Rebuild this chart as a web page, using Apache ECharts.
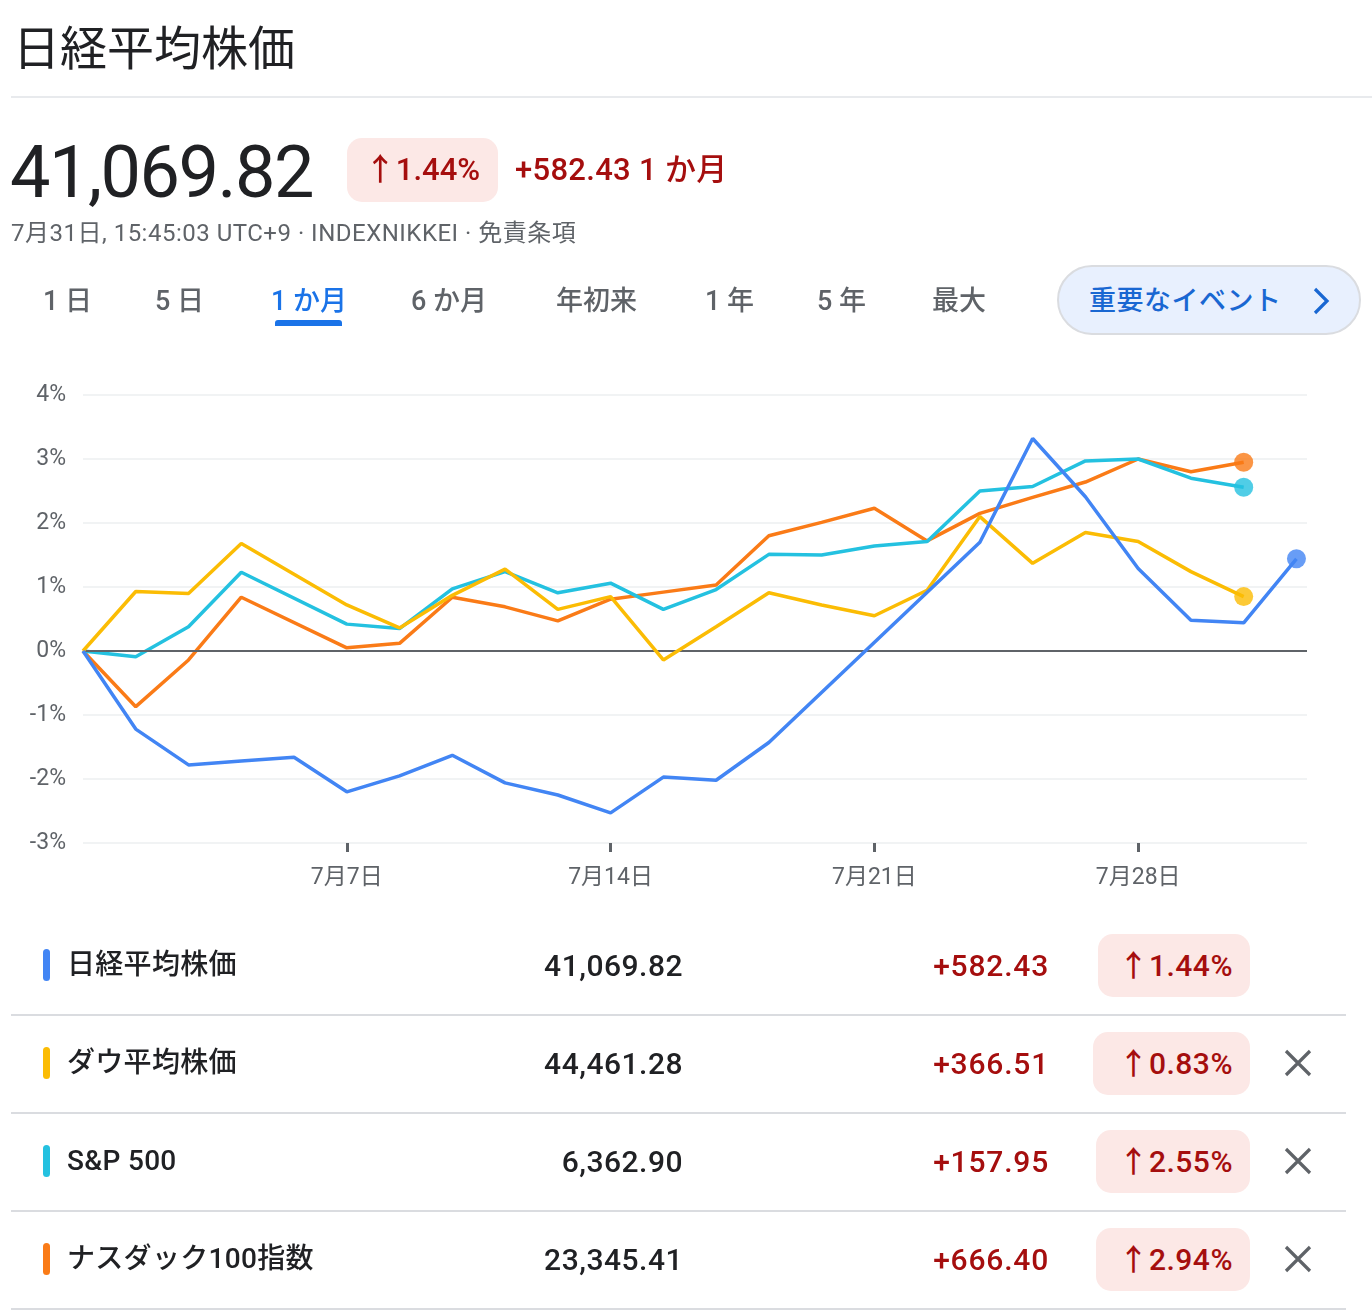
<!DOCTYPE html>
<html lang="ja">
<head>
<meta charset="utf-8">
<script src="https://cdn.jsdelivr.net/npm/echarts@6/dist/echarts.min.js"></script>
<style>
  html, body { margin:0; padding:0; background:#fff; }
  body { width:1372px; height:1314px; position:relative; overflow:hidden;
         font-family: Roboto, "Noto Sans CJK JP", sans-serif; color:#202124; }
  #chart { position:absolute; left:0; top:0; width:1372px; height:1314px; }
  .abs { position:absolute; white-space:nowrap; }
  .title { left:13px; top:12px; font-size:47px; font-family:"Noto Sans CJK JP", sans-serif; line-height:66px; color:#202124; }
  .divider { left:11px; top:96px; width:1361px; height:2px; background:#e8eaed; }
  .price { left:10px; top:128px; font-size:72px; line-height:90px; letter-spacing:-1.5px; color:#202124; }
  .badge { background:#fce8e6; color:#a50e0e; border-radius:15px; font-weight:500; text-align:center; }
  .hbadge { left:347px; top:138px; width:151px; height:64px; line-height:64px; font-size:31px; }
  .hchg { left:515px; top:148px; font-size:31px; line-height:44px; color:#a50e0e; font-weight:500; letter-spacing:0.3px; }
  .sub { left:11px; top:218px; font-size:24px; line-height:30px; color:#5f6368; letter-spacing:0.5px; }
  .tab { top:284px; font-size:27px; line-height:34px; color:#5f6368; font-weight:500; }
  .tab.active { color:#1a73e8; }
  .uline { left:275px; top:320px; width:67px; height:6px; border-radius:3px 3px 0 0; background:#1a73e8; }
  .evbtn { left:1057px; top:265px; width:304px; height:70px; border-radius:35px; background:#e8f0fe; border:2px solid #dadce0; box-sizing:border-box; }
  .evtxt { left:1089px; top:284px; font-size:27px; line-height:34px; color:#1967d2; font-weight:500; letter-spacing:0.5px; }
  .row-bar { width:7px; height:32px; border-radius:4px; }
  .row-name { left:67px; font-size:28px; line-height:36px; font-weight:500; color:#202124; letter-spacing:0.3px; }
  .row-val { font-size:30px; line-height:36px; font-weight:500; color:#202124; text-align:right; width:250px; letter-spacing:0.5px; }
  .row-chg { font-size:30px; line-height:36px; font-weight:500; color:#a50e0e; text-align:right; width:250px; letter-spacing:0.8px; }
  .rbadge { height:63px; line-height:63px; font-size:30px; text-align:right; padding:0 17px; box-sizing:border-box; letter-spacing:0.5px; }
  .row-line { left:11px; width:1335px; height:2px; background:#dadce0; }
</style>
</head>
<body>
<div id="chart"></div>
<div id="overlay"></div>
<script>
// ---- data ----
const indexNames = ['日経平均株価', 'ダウ平均株価', 'S&P 500', 'ナスダック100指数'];
const lastValues = ['41,069.82', '44,461.28', '6,362.90', '23,345.41'];
const changes = ['+582.43', '+366.51', '+157.95', '+666.40'];
const changePct = ['1.44%', '0.83%', '2.55%', '2.94%'];
const seriesColors = ['#4285f4', '#fbbc04', '#24c1e0', '#fa7b17'];
// trading-day positions (0 = 6月30日)
const tradingDays = ['6月30日','7月1日','7月2日','7月3日','7月4日','7月7日','7月8日','7月9日','7月10日','7月11日',
  '7月14日','7月15日','7月16日','7月17日','7月18日','7月21日','7月22日','7月23日','7月24日','7月25日',
  '7月28日','7月29日','7月30日','7月31日'];
const xTickIndex = [5, 10, 15, 20];
const yTicks = [-3, -2, -1, 0, 1, 2, 3, 4];
// percent change vs 6月30日
const nikkei = [0, -1.22, -1.78, -1.72, -1.66, -2.20, -1.95, -1.63, -2.06, -2.25, -2.53, -1.97, -2.02, -1.43, null, null, null, 1.70, 3.32, 2.41, 1.29, 0.48, 0.44, 1.44];
const dow    = [0, 0.93, 0.90, 1.68, null, 0.72, 0.36, 0.87, 1.28, 0.65, 0.85, -0.14, 0.38, 0.91, 0.72, 0.55, 0.95, 2.10, 1.37, 1.85, 1.71, 1.24, 0.85, null];
const sp500  = [0, -0.09, 0.38, 1.23, null, 0.42, 0.35, 0.97, 1.24, 0.91, 1.06, 0.65, 0.96, 1.51, 1.50, 1.64, 1.71, 2.50, 2.57, 2.97, 3.00, 2.70, 2.56, null];
const ndx100 = [0, -0.87, -0.14, 0.84, null, 0.05, 0.12, 0.84, 0.69, 0.47, 0.81, 0.92, 1.03, 1.80, 2.01, 2.23, 1.72, 2.15, 2.40, 2.64, 3.00, 2.80, 2.95, null];
const allSeries = [nikkei, dow, sp500, ndx100];

// ---- HTML parts ----
const ov = document.getElementById('overlay');
function el(cls, style, text) {
  const d = document.createElement('div');
  d.className = 'abs ' + cls;
  if (style) d.setAttribute('style', style);
  if (text !== undefined) d.textContent = text;
  ov.appendChild(d);
  return d;
}
el('title', '', '日経平均株価');
el('divider', '');
el('price', '', lastValues[0]);
el('badge hbadge', '', '↑' + changePct[0]);
el('hchg', '', changes[0] + ' 1 か月');
el('sub', '', '7月31日, 15:45:03 UTC+9 · INDEXNIKKEI · 免責条項');
const tabs = [['1 日',43],['5 日',155],['1 か月',271],['6 か月',411],['年初来',556],['1 年',705],['5 年',817],['最大',932]];
tabs.forEach((t, i) => el('tab' + (i === 2 ? ' active' : ''), 'left:' + t[1] + 'px', t[0]));
el('uline', '');
el('evbtn', '');
el('evtxt', '', '重要なイベント');
const chev = el('', 'left:1309px;top:286px;width:24px;height:30px;');
chev.innerHTML = '<svg width="24" height="30" viewBox="0 0 24 30"><polyline points="6,3 18,15 6,27" fill="none" stroke="#1967d2" stroke-width="3.2"/></svg>';

const rowCenters = [965, 1063, 1161, 1259];
const badgeLeft = [1098, 1093, 1096, 1096];
indexNames.forEach((name, i) => {
  const cy = rowCenters[i];
  el('row-bar', 'left:43px;top:' + (cy - 16) + 'px;background:' + seriesColors[i]);
  el('row-name', 'top:' + (cy - 18) + 'px', name);
  el('row-val', 'left:' + (683 - 250) + 'px;top:' + (cy - 17) + 'px', lastValues[i]);
  el('row-chg', 'left:' + (1049 - 250) + 'px;top:' + (cy - 17) + 'px', changes[i]);
  el('badge rbadge', 'left:' + badgeLeft[i] + 'px;width:' + (1250 - badgeLeft[i]) + 'px;top:' + (cy - 31) + 'px', '↑' + changePct[i]);
  if (i > 0) {
    const x = el('', 'left:1284px;top:' + (cy - 14) + 'px;width:28px;height:28px;');
    x.innerHTML = '<svg width="28" height="28" viewBox="0 0 28 28"><path d="M2 2 L26 26 M26 2 L2 26" stroke="#5f6368" stroke-width="3.2"/></svg>';
  }
  el('row-line', 'top:' + (cy + 49) + 'px');
});

// ---- chart ----
const chart = echarts.init(document.getElementById('chart'), null, { renderer: 'canvas' });
function toPairs(arr) { return arr.map((v, i) => [i, v]); }
function lastPoint(arr) { for (let i = arr.length - 1; i >= 0; i--) if (arr[i] !== null) return [i, arr[i]]; return null; }

const series = [{
  type: 'line', data: [], silent: true, z: 1,
  markLine: { silent: true, symbol: 'none', label: { show: false },
    lineStyle: { color: '#5f6368', width: 2, type: 'solid' }, data: [{ yAxis: 0 }] }
}];
allSeries.forEach((arr, i) => {
  series.push({
    name: indexNames[i], type: 'line', data: toPairs(arr), connectNulls: true,
    showSymbol: false, symbol: 'none', z: 3 + (3 - i),
    lineStyle: { color: seriesColors[i], width: 3.5 }, itemStyle: { color: seriesColors[i] }
  });
  series.push({
    type: 'scatter', data: [lastPoint(arr)], symbolSize: 19, z: 10,
    itemStyle: { color: seriesColors[i] }
  });
});

chart.setOption({
  animation: false,
  backgroundColor: 'transparent',
  grid: { left: 83, right: 65, top: 395, bottom: 471, containLabel: false },
  xAxis: {
    type: 'value', min: 0, max: 23.2,
    axisLine: { show: false, onZero: false }, splitLine: { show: false },
    axisTick: { show: true, customValues: xTickIndex, length: 9, lineStyle: { color: '#5f6368', width: 3 } },
    axisLabel: { customValues: xTickIndex, margin: 24, fontSize: 23, color: '#5f6368',
      fontFamily: 'Roboto, "Noto Sans CJK JP", sans-serif',
      formatter: v => tradingDays[Math.round(v)] || '' }
  },
  yAxis: {
    type: 'value', min: yTicks[0], max: yTicks[yTicks.length - 1], interval: 1,
    axisLine: { show: false }, axisTick: { show: false },
    axisLabel: { formatter: '{value}%', margin: 17, fontSize: 23, color: '#5f6368', fontFamily: 'Roboto, sans-serif' },
    splitLine: { lineStyle: { color: '#f1f3f4', width: 2 } }
  },
  series: series
});
</script>
</body>
</html>
